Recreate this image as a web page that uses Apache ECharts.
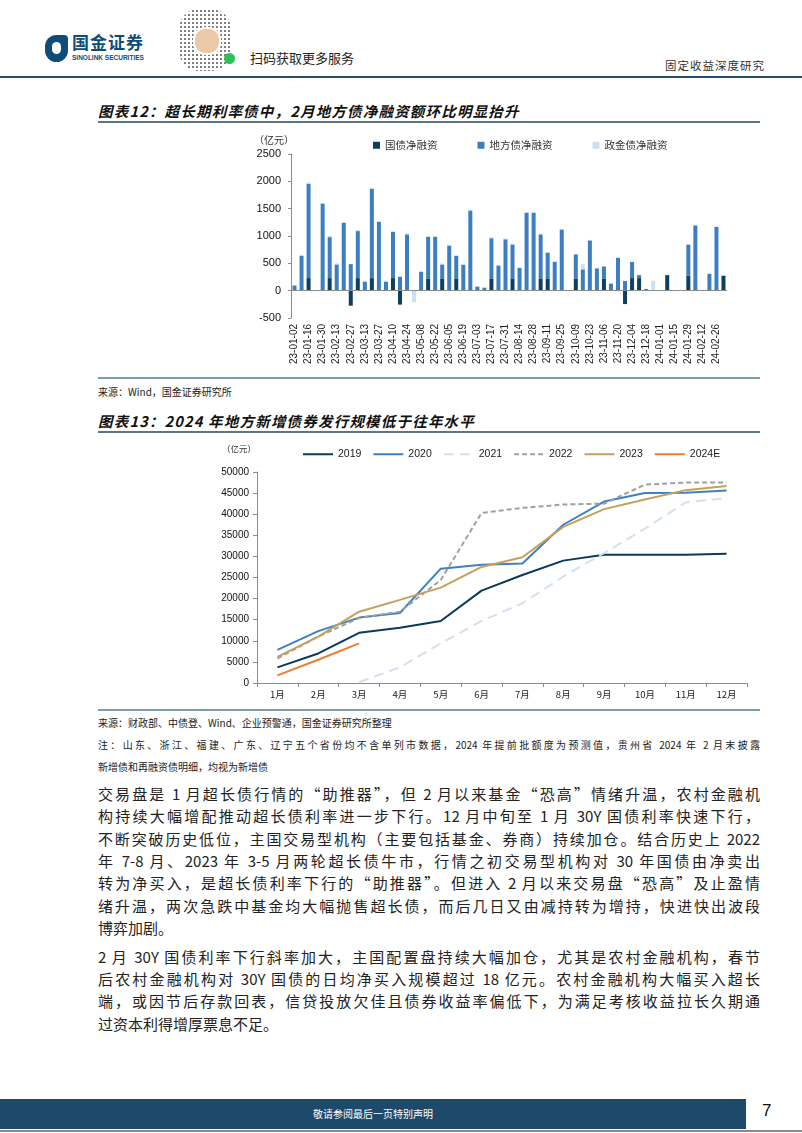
<!DOCTYPE html>
<html>
<head>
<meta charset="utf-8">
<script src="https://cdn.jsdelivr.net/npm/echarts@6/dist/echarts.min.js"></script>
<style>
  body { margin: 0; background: #fff; }
  #page { position: relative; width: 802px; height: 1133px; overflow: hidden; font-family: "Noto Sans CJK SC", sans-serif; color: #1a1a1a; }
  .abs { position: absolute; }
  .title { left: 98px; font-size: 14.5px; font-weight: bold; font-style: italic; letter-spacing: 1.2px; color: #111; }
  .rule { left: 98px; width: 662px; }
  .small { left: 98px; font-size: 10px; color: #222; }
  .para { left: 98px; width: 662px; font-size: 15px; line-height: 22px; text-align: justify; text-align-last: justify; white-space: nowrap; color: #222; }
  .para.last { text-align-last: left; }
</style>
</head>
<body>
<div id="page">
  <!-- 页眉 -->
  <div class="abs" style="left:45px;top:35px;width:23px;height:27px;background:#0e4c7a;border-radius:12px 4px 12px 12px;"></div>
  <div class="abs" style="left:52px;top:42px;width:9px;height:12px;background:#fff;border-radius:5px;"></div>
  <div class="abs" style="left:72px;top:31px;font-size:17px;line-height:22px;font-weight:bold;color:#0e4c7a;letter-spacing:1px;">国金证券</div>
  <div class="abs" style="left:72px;top:54px;font-size:6.5px;line-height:8px;font-weight:bold;color:#0e4c7a;font-family:'Liberation Sans';">SINOLINK SECURITIES</div>
  <div class="abs" style="left:179px;top:9px;width:52px;height:62px;background:radial-gradient(circle,#555 1px,transparent 1.4px) 0 0/4px 4px;opacity:0.75;border-radius:20px;"></div>
  <div class="abs" style="left:193px;top:27px;width:24px;height:24px;background:#e9c9a8;border-radius:12px;border:2px solid #fff;"></div>
  <div class="abs" style="left:224px;top:53px;width:11px;height:11px;background:#2fbf5a;border-radius:6px;"></div>
  <div class="abs" style="left:250px;top:48px;font-size:13px;color:#222;">扫码获取更多服务</div>
  <div class="abs" style="left:665px;top:57px;font-size:11.5px;color:#333;letter-spacing:1px;">固定收益深度研究</div>
  <div class="abs" style="left:0;top:76px;width:802px;height:2px;background:#244f6d;"></div>

  <!-- 图表12 -->
  <div class="abs title" style="top:100px;">图表12：超长期利率债中，2月地方债净融资额环比明显抬升</div>
  <div class="abs rule" style="top:121px;height:2px;background:#5b7584;"></div>
  <div id="c1" class="abs" style="left:0;top:125px;width:802px;height:250px;"></div>
  <div class="abs rule" style="top:377px;height:2px;background:#7d9ea8;"></div>
  <div class="abs small" style="top:384px;">来源：Wind，国金证券研究所</div>

  <!-- 图表13 -->
  <div class="abs title" style="top:410px;">图表13：2024 年地方新增债券发行规模低于往年水平</div>
  <div class="abs rule" style="top:431px;height:2px;background:#5b7584;"></div>
  <div id="c2" class="abs" style="left:0;top:435px;width:802px;height:272px;"></div>
  <div class="abs rule" style="top:709px;height:2px;background:#7d9ea8;"></div>
  <div class="abs small" style="top:715px;">来源：财政部、中债登、Wind、企业预警通，国金证券研究所整理</div>
  <div class="abs small" style="top:737px;width:662px;text-align:justify;text-align-last:justify;white-space:nowrap;">注：山东、浙江、福建、广东、辽宁五个省份均不含单列市数据，2024 年提前批额度为预测值，贵州省 2024 年 2 月末披露</div>
  <div class="abs small" style="top:759px;">新增债和再融资债明细，均视为新增债</div>

  <!-- 正文 -->
  <div class="abs para" style="top:783px;">交易盘是 1 月超长债行情的“助推器”，但 2 月以来基金“恐高”情绪升温，农村金融机</div>
  <div class="abs para" style="top:805px;">构持续大幅增配推动超长债利率进一步下行。12 月中旬至 1 月 30Y 国债利率快速下行，</div>
  <div class="abs para" style="top:828px;">不断突破历史低位，主国交易型机构（主要包括基金、券商）持续加仓。结合历史上 2022</div>
  <div class="abs para" style="top:850px;">年 7-8 月、2023 年 3-5 月两轮超长债牛市，行情之初交易型机构对 30 年国债由净卖出</div>
  <div class="abs para" style="top:872px;">转为净买入，是超长债利率下行的“助推器”。但进入 2 月以来交易盘“恐高”及止盈情</div>
  <div class="abs para" style="top:895px;">绪升温，两次急跌中基金均大幅抛售超长债，而后几日又由减持转为增持，快进快出波段</div>
  <div class="abs para last" style="top:917px;">博弈加剧。</div>

  <div class="abs para" style="top:946px;">2 月 30Y 国债利率下行斜率加大，主国配置盘持续大幅加仓，尤其是农村金融机构，春节</div>
  <div class="abs para" style="top:968px;">后农村金融机构对 30Y 国债的日均净买入规模超过 18 亿元。农村金融机构大幅买入超长</div>
  <div class="abs para" style="top:990px;">端，或因节后存款回表，信贷投放欠佳且债券收益率偏低下，为满足考核收益拉长久期通</div>
  <div class="abs para last" style="top:1013px;">过资本利得增厚票息不足。</div>

  <!-- 页脚 -->
  <div class="abs" style="left:0;top:1099px;width:746px;height:30px;background:#1d4a6a;"></div>
  <div class="abs" style="left:0;top:1106px;width:746px;text-align:center;font-size:10px;color:#fff;">敬请参阅最后一页特别声明</div>
  <div class="abs" style="left:0;top:1130px;width:802px;height:2px;background:#8a8a8a;"></div>
  <div class="abs" style="left:762px;top:1101px;font-size:17px;color:#111;font-family:'Liberation Sans';">7</div>
</div>

<script>
// 图表12 数据：周度净融资（亿元）
var weeks = ['23-01-02','23-01-09','23-01-16','23-01-23','23-01-30','23-02-06','23-02-13','23-02-20','23-02-27','23-03-06',
  '23-03-13','23-03-20','23-03-27','23-04-03','23-04-10','23-04-17','23-04-24','23-05-01','23-05-08','23-05-15',
  '23-05-22','23-05-29','23-06-05','23-06-12','23-06-19','23-06-26','23-07-03','23-07-10','23-07-17','23-07-24',
  '23-07-31','23-08-07','23-08-14','23-08-21','23-08-28','23-09-04','23-09-11','23-09-18','23-09-25','23-10-02',
  '23-10-09','23-10-16','23-10-23','23-10-30','23-11-06','23-11-13','23-11-20','23-11-27','23-12-04','23-12-11',
  '23-12-18','23-12-25','24-01-01','24-01-08','24-01-15','24-01-22','24-01-29','24-02-05','24-02-12','24-02-19',
  '24-02-26','24-03-04'];
var gzNet = [0,0,230,0,0,230,0,0,-275,230,
  0,230,0,0,230,-255,0,0,0,225,
  0,225,0,225,0,0,0,0,225,0,
  0,225,0,0,0,225,225,0,0,0,
  225,0,0,0,225,0,0,-245,230,230,
  0,0,0,285,0,0,275,0,0,0,
  0,275];
var dfNet = [95,640,1725,0,1595,750,480,1240,485,860,
  165,1630,1260,165,845,255,1030,0,345,760,
  985,255,825,410,470,1465,75,55,735,460,
  940,620,415,1425,1425,805,470,525,1120,0,
  440,390,920,410,220,130,600,176,295,55,
  30,0,0,0,0,0,570,1195,0,305,
  1165,0];
var zjNet = [0,0,25,0,10,25,20,20,0,20,
  18,25,15,18,15,10,20,-212,18,18,
  18,18,20,15,20,20,5,5,15,10,
  15,15,8,15,15,15,8,12,10,0,
  5,95,10,8,8,5,8,0,5,8,
  5,182,0,10,0,0,10,10,0,12,
  12,8];

// 图表13 数据：地方新增债累计发行（亿元）
var months = ['1月','2月','3月','4月','5月','6月','7月','8月','9月','10月','11月','12月'];
var y2019 = [3700,7000,11900,13100,14700,21900,25600,29000,30400,30400,30400,30600];
var y2020 = [7850,12300,15500,16600,27100,28000,28300,37500,43000,45000,45100,45600];
var y2021 = [null,null,200,3700,9400,14700,18900,25200,30800,36600,42800,43800];
var y2022 = [5800,11000,15400,16900,24400,40300,41500,42300,42500,47000,47500,47500];
var y2023 = [6200,11000,16900,19700,22600,27500,29800,37000,41200,43500,45700,46700];
var y2024E = [1800,5500,9400,null,null,null,null,null,null,null,null,null];

function plain(v) { return String(v); }

var c1 = echarts.init(document.getElementById('c1'));
c1.setOption({
  animation: false,
  textStyle: { fontFamily: 'Liberation Sans, Noto Sans CJK SC' },
  legend: {
    left: 368, top: 10, itemGap: 40, itemWidth: 7, itemHeight: 7,
    icon: 'rect',
    textStyle: { fontSize: 10.5, color: '#333', fontFamily: 'Noto Sans CJK SC' },
    data: ['国债净融资', '地方债净融资', '政金债净融资']
  },
  graphic: [{
    type: 'text', left: 254, top: 10,
    style: { text: '（亿元）', fontSize: 10, fill: '#333', fontFamily: 'Noto Sans CJK SC' }
  }],
  grid: { left: 291, right: 75, top: 29, bottom: 57 },
  xAxis: {
    type: 'category', data: weeks,
    axisLine: { show: false, onZero: false },
    axisTick: { show: false },
    axisLabel: { interval: 1, rotate: 90, fontSize: 10, color: '#222', margin: 6 }
  },
  yAxis: {
    type: 'value', min: -500, max: 2500, interval: 500,
    splitLine: { show: false },
    axisLine: { show: true, lineStyle: { color: '#8c8c8c' } },
    axisTick: { show: true, length: 3, lineStyle: { color: '#8c8c8c' } },
    axisLabel: { fontSize: 11, color: '#111', margin: 10, formatter: plain }
  },
  series: [
    { name: '国债净融资', type: 'bar', stack: 'net', data: gzNet, barWidth: 4,
      itemStyle: { color: '#0d3f5f' },
      markLine: { silent: true, symbol: 'none', label: { show: false },
        lineStyle: { color: '#8c8c8c', width: 1, type: 'solid' }, data: [{ yAxis: 0 }] } },
    { name: '地方债净融资', type: 'bar', stack: 'net', data: dfNet, barWidth: 4,
      itemStyle: { color: '#3d7ec3' } },
    { name: '政金债净融资', type: 'bar', stack: 'net', data: zjNet, barWidth: 4,
      itemStyle: { color: '#cddff0' } }
  ]
});

var c2 = echarts.init(document.getElementById('c2'));
function lineSeries(name, data, color, type) {
  return { name: name, type: 'line', data: data, symbol: 'none', connectNulls: false,
    lineStyle: { color: color, width: 2, type: type }, itemStyle: { color: color } };
}
c2.setOption({
  animation: false,
  textStyle: { fontFamily: 'Liberation Sans, Noto Sans CJK SC' },
  legend: {
    left: 297, top: 9, itemGap: 11, itemWidth: 30, itemHeight: 10,
    itemStyle: { opacity: 0 },
    textStyle: { fontSize: 10.5, color: '#222' },
    data: ['2019', '2020', '2021', '2022', '2023', '2024E']
  },
  graphic: [{
    type: 'text', left: 222, top: 10,
    style: { text: '（亿元）', fontSize: 8.5, fill: '#333', fontFamily: 'Noto Sans CJK SC' }
  }],
  grid: { left: 257, right: 55, top: 37, bottom: 24 },
  xAxis: {
    type: 'category', data: months, boundaryGap: true,
    axisLine: { lineStyle: { color: '#8c8c8c' } },
    axisTick: { show: true, length: 4, lineStyle: { color: '#8c8c8c' } },
    axisLabel: { fontSize: 9.5, color: '#222', margin: 7, fontFamily: 'Noto Sans CJK SC' }
  },
  yAxis: {
    type: 'value', min: 0, max: 50000, interval: 5000,
    splitLine: { show: false },
    axisLine: { show: true, lineStyle: { color: '#8c8c8c' } },
    axisTick: { show: true, length: 4, lineStyle: { color: '#8c8c8c' } },
    axisLabel: { fontSize: 10, color: '#111', margin: 8, formatter: plain }
  },
  series: [
    lineSeries('2019', y2019, '#0b3a5a', 'solid'),
    lineSeries('2020', y2020, '#3f7fc4', 'solid'),
    lineSeries('2021', y2021, '#d3e1ee', [10, 6]),
    lineSeries('2022', y2022, '#a0a0a0', [5, 3]),
    lineSeries('2023', y2023, '#c4a15a', 'solid'),
    lineSeries('2024E', y2024E, '#ed7d31', 'solid')
  ]
});
</script>
</body>
</html>
